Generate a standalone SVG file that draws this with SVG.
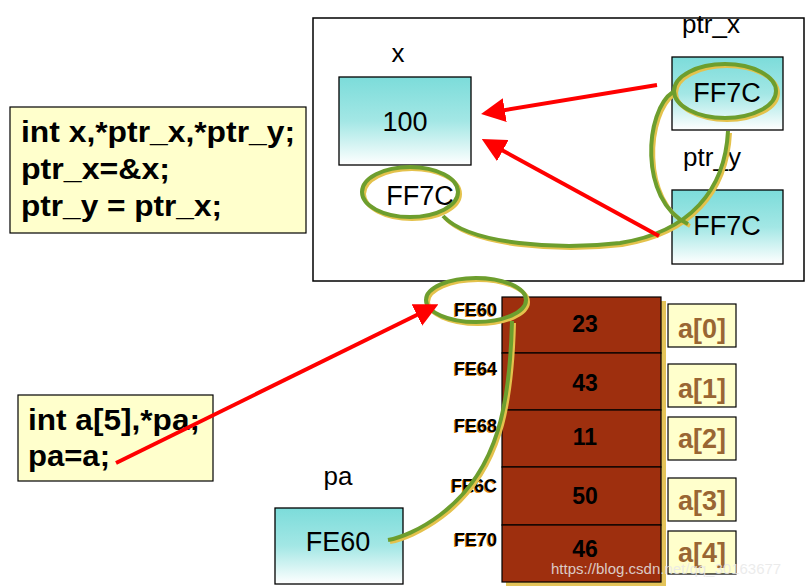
<svg xmlns="http://www.w3.org/2000/svg" width="805" height="586" viewBox="0 0 805 586">
<style>
  text { font-family: "Liberation Sans", Arial, sans-serif; }
  .cyan { fill: url(#cg); stroke: #000; stroke-width: 1.3; }
  .lbl { font-size: 26px; fill: #000; }
  .val { font-size: 27px; fill: #000; text-anchor: middle; }
  .code { font-size: 30px; font-weight: bold; fill: #000; }
  .codebox { fill: #ffffcc; stroke: #000; stroke-width: 1.2; }
  .cell { fill: #9e2f0e; stroke: #000; stroke-width: 1.2; }
  .num { font-size: 23px; font-weight: bold; fill: #000; text-anchor: middle; }
  .addr { font-size: 18px; font-weight: bold; fill: #000; text-anchor: end; }
  .addrsh { font-size: 18px; font-weight: bold; fill: #e08a1a; text-anchor: end; }
  .idxbox { fill: #ffffcc; stroke: #000; stroke-width: 1.2; }
  .idx { font-size: 27px; font-weight: bold; fill: #996633; text-anchor: middle; }
  .gy { fill: none; stroke: #e4c24c; stroke-width: 4; }
  .gg { fill: none; stroke: #6d9e2e; stroke-width: 4; }
  .red { fill: none; stroke: #ff0000; stroke-width: 4; }
</style>
<defs>
  <linearGradient id="cg" x1="0" y1="0" x2="0" y2="1">
    <stop offset="0" stop-color="#7cdcda"/>
    <stop offset="0.5" stop-color="#a3e7e5"/>
    <stop offset="1" stop-color="#ffffff"/>
  </linearGradient>
  <marker id="ah" markerWidth="6" markerHeight="6" refX="4.5" refY="3" orient="auto" markerUnits="strokeWidth">
    <path d="M0,0 L6,3 L0,6 Z" fill="#ff0000"/>
  </marker>
</defs>
<rect width="805" height="586" fill="#ffffff"/>

<g id="container">
  <rect x="313" y="18" width="491" height="263" fill="#ffffff" stroke="#000" stroke-width="1.5"/>
</g>

<g id="code1">
  <rect class="codebox" x="10" y="107" width="296" height="126"/>
  <text class="code" x="21" y="142" textLength="274" lengthAdjust="spacingAndGlyphs">int x,*ptr_x,*ptr_y;</text>
  <text class="code" x="21" y="179" textLength="149" lengthAdjust="spacingAndGlyphs">ptr_x=&amp;x;</text>
  <text class="code" x="21" y="216" textLength="201" lengthAdjust="spacingAndGlyphs">ptr_y = ptr_x;</text>
</g>

<g id="node-x">
  <text class="lbl" x="398" y="62" text-anchor="middle">x</text>
  <rect class="cyan" x="339" y="77" width="132" height="88"/>
  <text class="val" x="405" y="131">100</text>
</g>

<g id="node-x-addr">
  <text class="val" x="420" y="205">FF7C</text>
</g>

<g id="node-ptr_x">
  <text class="lbl" x="711" y="33" text-anchor="middle">ptr_x</text>
  <rect class="cyan" x="672" y="57" width="111" height="73"/>
  <text class="val" x="727" y="102">FF7C</text>
</g>

<g id="node-ptr_y">
  <text class="lbl" x="712" y="166" text-anchor="middle">ptr_y</text>
  <rect class="cyan" x="672" y="190" width="111" height="74"/>
  <text class="val" x="727" y="235">FF7C</text>
</g>

<g id="code2">
  <rect class="codebox" x="18" y="395" width="195" height="86"/>
  <text class="code" x="28" y="430" textLength="172" lengthAdjust="spacingAndGlyphs">int a[5],*pa;</text>
  <text class="code" x="28" y="466" textLength="82" lengthAdjust="spacingAndGlyphs">pa=a;</text>
</g>

<g id="node-pa">
  <text class="lbl" x="338" y="485" text-anchor="middle">pa</text>
  <rect class="cyan" x="275" y="508" width="128" height="76"/>
  <text class="val" x="338" y="551">FE60</text>
</g>

<g id="array">
  <rect x="506" y="301" width="160" height="285" fill="#e4c45a"/>
  <rect class="cell" x="502" y="297" width="159" height="56"/>
  <rect class="cell" x="502" y="353" width="159" height="57"/>
  <rect class="cell" x="502" y="410" width="159" height="57"/>
  <rect class="cell" x="502" y="467" width="159" height="58"/>
  <rect class="cell" x="502" y="525" width="159" height="57"/>
  <text class="num" x="585" y="332">23</text>
  <text class="num" x="585" y="391">43</text>
  <text class="num" x="585" y="445">11</text>
  <text class="num" x="585" y="504">50</text>
  <text class="num" x="585" y="557">46</text>
</g>

<g id="addresses">
  <text class="addrsh" x="496" y="317">FE60</text>
  <text class="addr" x="497" y="316">FE60</text>
  <text class="addrsh" x="496" y="376">FE64</text>
  <text class="addr" x="497" y="375">FE64</text>
  <text class="addrsh" x="496" y="433">FE68</text>
  <text class="addr" x="497" y="432">FE68</text>
  <text class="addrsh" x="496" y="493">FE6C</text>
  <text class="addr" x="497" y="492">FE6C</text>
  <text class="addrsh" x="496" y="547">FE70</text>
  <text class="addr" x="497" y="546">FE70</text>
</g>

<g id="a0"><rect class="idxbox" x="668" y="304" width="68" height="43"/><text class="idx" x="702" y="338">a[0]</text></g>
<g id="a1"><rect class="idxbox" x="668" y="364" width="68" height="43"/><text class="idx" x="702" y="398">a[1]</text></g>
<g id="a2"><rect class="idxbox" x="668" y="417" width="68" height="43"/><text class="idx" x="702" y="448">a[2]</text></g>
<g id="a3"><rect class="idxbox" x="668" y="478" width="68" height="43"/><text class="idx" x="702" y="510">a[3]</text></g>
<g id="a4"><rect class="idxbox" x="668" y="531" width="68" height="43"/><text class="idx" x="702" y="562">a[4]</text></g>

<g id="connectors">
  <g transform="translate(2,2)">
    <ellipse class="gy" cx="725" cy="91" rx="51" ry="27"/>
    <ellipse class="gy" cx="410" cy="192" rx="48" ry="25"/>
    <ellipse class="gy" cx="476" cy="300" rx="50" ry="22"/>
    <path class="gy" d="M443,216 C470,245 560,250 620,243 C690,232 725,190 728,131"/>
    <path class="gy" d="M673,92 C645,110 638,200 688,224"/>
    <path class="gy" d="M512,321 C510,400 500,470 440,515 C420,530 400,538 388,540"/>
  </g>
  <ellipse class="gg" cx="725" cy="91" rx="51" ry="27"/>
  <ellipse class="gg" cx="410" cy="192" rx="48" ry="25"/>
  <ellipse class="gg" cx="476" cy="300" rx="50" ry="22"/>
  <path class="gg" d="M443,216 C470,245 560,250 620,243 C690,232 725,190 728,131"/>
  <path class="gg" d="M673,92 C645,110 638,200 688,224"/>
  <path class="gg" d="M512,321 C510,400 500,470 440,515 C420,530 400,538 388,540"/>
  <line class="red" x1="657" y1="85" x2="487" y2="113" marker-end="url(#ah)"/>
  <line class="red" x1="659" y1="236" x2="487" y2="142" marker-end="url(#ah)"/>
  <line class="red" x1="116" y1="463" x2="433" y2="307" marker-end="url(#ah)"/>
</g>

<text x="551" y="574" font-size="15" fill="#e8e8e8" fill-opacity="0.85" font-family="Liberation Sans, Arial, sans-serif">https://blog.csdn.net/qq_30163677</text>
</svg>
